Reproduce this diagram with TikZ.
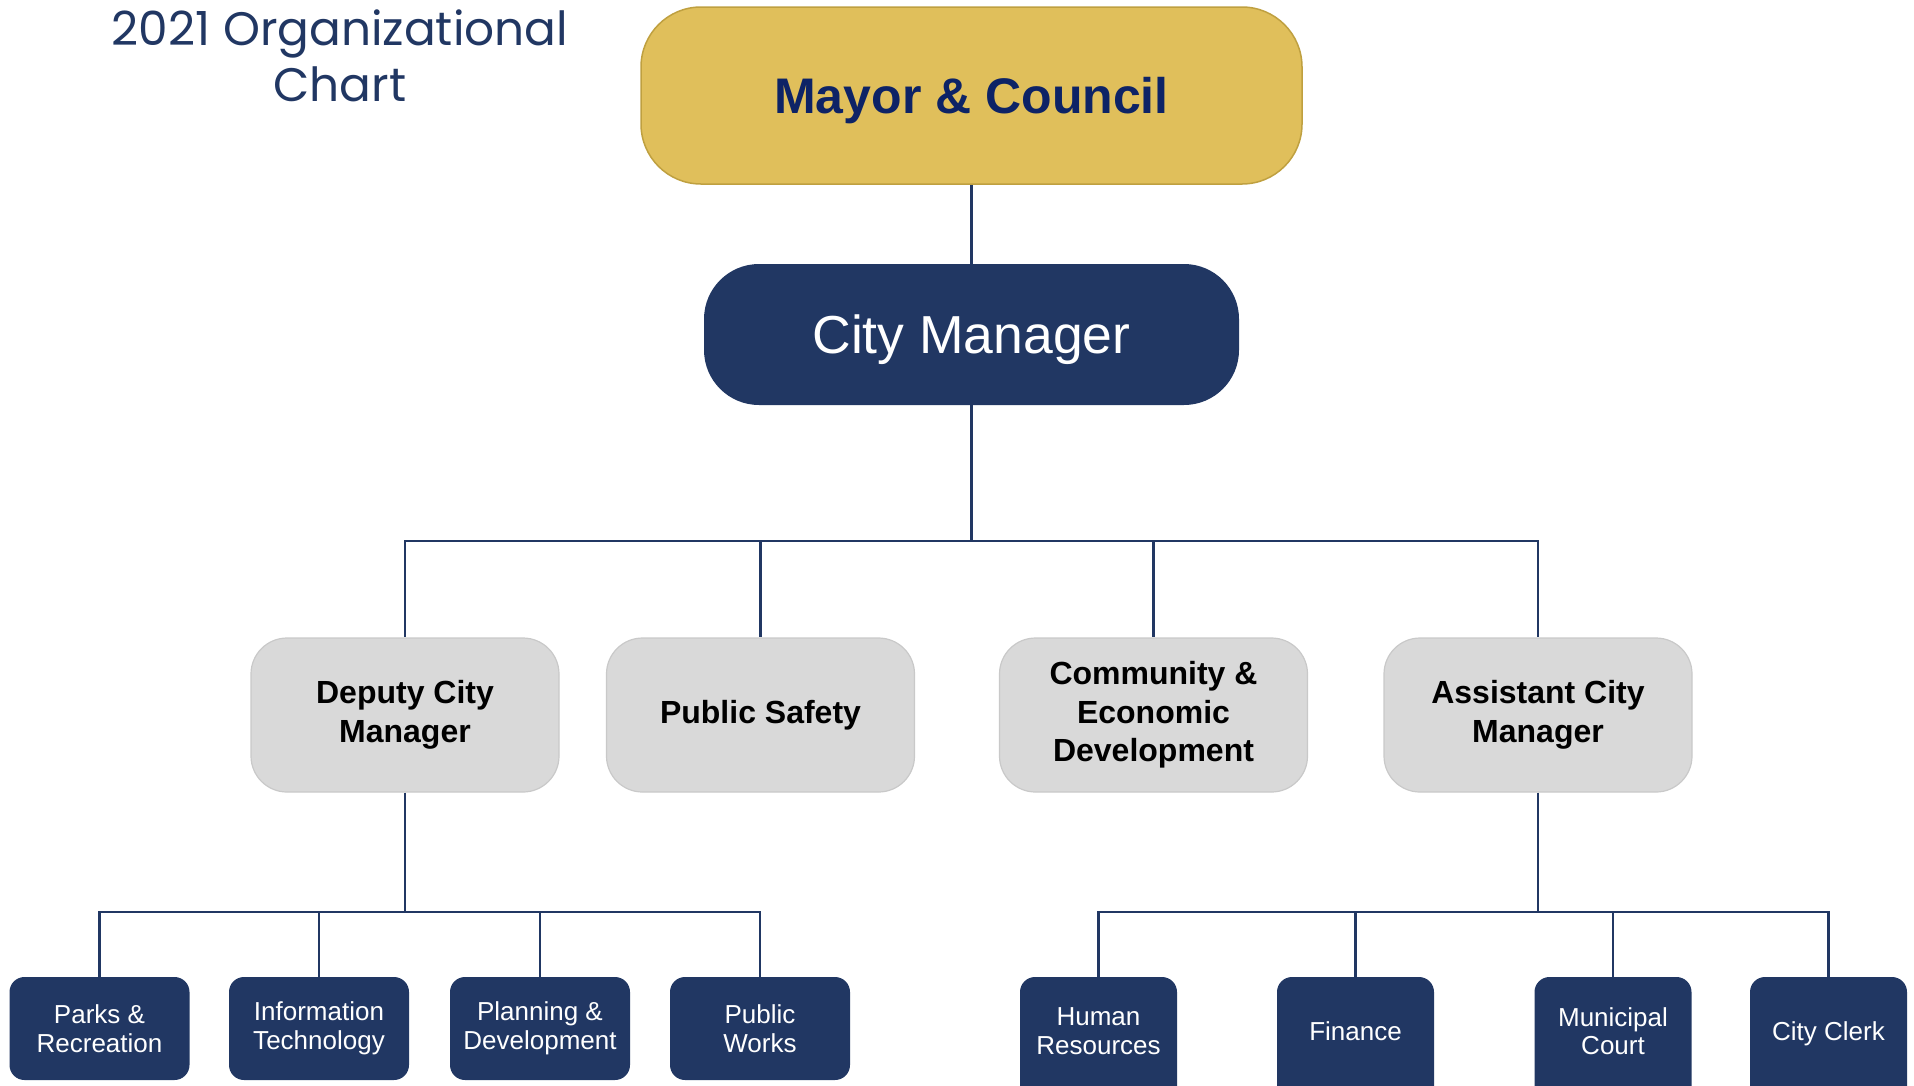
\documentclass[tikz,border=0pt]{standalone}
\usepackage{fontspec}
\setmainfont{Liberation Sans}
\newfontfamily\titlefont{Poppins}
\definecolor{navy}{HTML}{213763}
\definecolor{ink}{HTML}{0D2366}
\definecolor{gold}{HTML}{E0BF5B}
\definecolor{golddark}{HTML}{BFA040}
\definecolor{panel}{HTML}{D9D9D9}
\definecolor{paneldark}{HTML}{C9C9C9}
\tikzset{
  heading/.style={text=navy, align=center, font=\titlefont\fontsize{47}{56}\selectfont},
  council/.style={fill=gold, draw=golddark, line width=1.5pt, rounded corners=60pt,
    minimum width=661pt, minimum height=177pt, inner sep=0pt, text=ink,
    text height=46.5pt, font=\bfseries\fontsize{50}{60}\selectfont},
  manager/.style={fill=navy, rounded corners=55pt, minimum width=535pt,
    minimum height=141pt, inner sep=0pt, text=white, text height=49pt,
    font=\fontsize{53.5}{62}\selectfont},
  office/.style={fill=panel, draw=paneldark, line width=1.2pt, rounded corners=36pt,
    minimum width=308pt, minimum height=154pt, inner sep=0pt, align=center,
    font=\bfseries\fontsize{32}{38.5}\selectfont},
  dept/.style={fill=navy, rounded corners=15pt, minimum width=180pt,
    minimum height=103pt, inner sep=0pt, align=center, text=white,
    font=\fontsize{26}{28.5}\selectfont},
  % the right-hand boxes run off the bottom edge, so lift their text
  deptlow/.style={dept, minimum width=157pt, minimum height=126pt, text depth=18pt},
  link/.style={draw=navy, line width=2.4pt}
}

\begin{document}
\begin{tikzpicture}[x=1pt, y=-1pt]
\useasboundingbox (0,0) rectangle (1914,1085);
\clip (0,0) rectangle (1914,1085);

\node[heading] (heading) at (340,56) {2021 Organizational\\Chart};

% top of the chart
\node[council] (mayor) at (971.5,95.5) {Mayor \& Council};
\node[manager] (cm) at (971.5,334.5) {City Manager};

% second row
\node[office] (deputy) at (405,715) {Deputy City\\Manager};
\node[office] (safety) at (760.5,715) {Public Safety};
\node[office] (community) at (1153.5,715) {Community \&\\Economic\\Development};
\node[office] (assistant) at (1538,715) {Assistant City\\Manager};

% departments under the deputy
\node[dept] (parks) at (99.5,1028.5) {Parks \&\\Recreation};
\node[dept] (infotech) at (319,1028.5) {Information\\Technology};
\node[dept] (planning) at (540,1028.5) {Planning \&\\Development};
\node[dept] (works) at (760,1028.5) {Public\\Works};

% departments under the assistant
\node[deptlow] (hr) at (1098.5,1040) {Human\\Resources};
\node[deptlow] (finance) at (1355.5,1040) {Finance};
\node[deptlow] (court) at (1613,1040) {Municipal\\Court};
\node[deptlow] (clerk) at (1828.5,1040) {City Clerk};

\coordinate (split) at (971.5,541);
\coordinate (dsplit) at (405,912);
\coordinate (asplit) at (1538,912);

\draw[link] (mayor) -- (cm);
\draw[link] (cm) -- (split);
\foreach \n in {deputy,safety,community,assistant}
  \draw[link] (split) -| (\n);

\draw[link] (deputy) -- (dsplit);
\foreach \n in {parks,infotech,planning,works}
  \draw[link] (dsplit) -| (\n);

\draw[link] (assistant) -- (asplit);
\foreach \n in {hr,finance,court,clerk}
  \draw[link] (asplit) -| (\n);
\end{tikzpicture}
\end{document}
